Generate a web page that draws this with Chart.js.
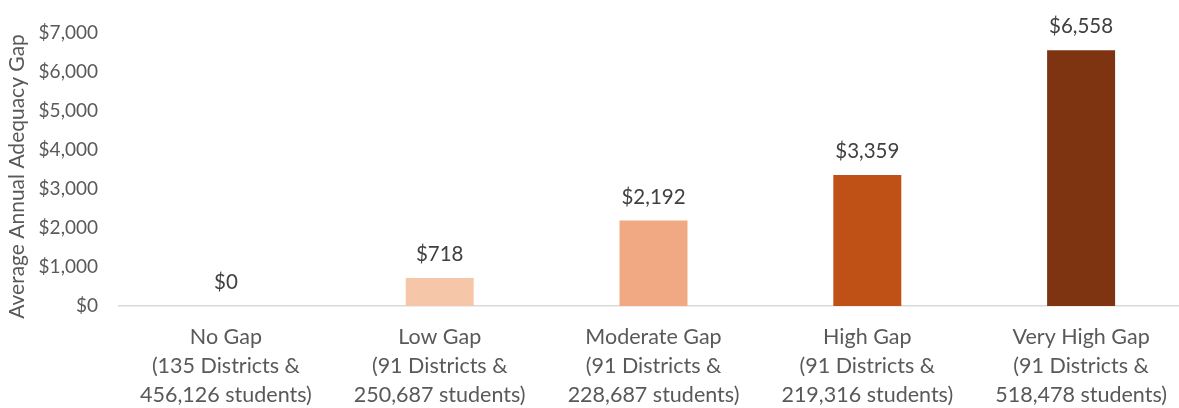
<!DOCTYPE html>
<html>
<head>
<meta charset="utf-8">
<script src="https://cdn.jsdelivr.net/npm/chart.js@4/dist/chart.umd.min.js"></script>
<style>
  html, body { margin: 0; padding: 0; background: #ffffff; overflow: hidden; }
  #wrap { position: relative; width: 1190px; height: 408px; }
</style>
</head>
<body>
<div id="wrap"><canvas id="c" width="1190" height="408"></canvas></div>
<script>
const categories = [
  ["No Gap", "(135 Districts &", "456,126 students)"],
  ["Low Gap", "(91 Districts &", "250,687 students)"],
  ["Moderate Gap", "(91 Districts &", "228,687 students)"],
  ["High Gap", "(91 Districts &", "219,316 students)"],
  ["Very High Gap", "(91 Districts &", "518,478 students)"]
];
const gapValues = [0, 718, 2192, 3359, 6558];
const barColors = ["#F8CBAD", "#F6C6A9", "#F1A983", "#C05116", "#7F3411"];
const yAxisTitle = "Average Annual Adequacy Gap";

const FONT = "Lato, 'Open Sans', sans-serif";
const TEXT = "#595959";

function money(v) {
  return "$" + Math.round(v).toLocaleString("en-US");
}

const valueLabels = {
  id: "valueLabels",
  afterDatasetsDraw(chart) {
    const ctx = chart.ctx;
    const meta = chart.getDatasetMeta(0);
    ctx.save();
    ctx.font = "20.5px " + FONT;
    ctx.fillStyle = "#404040";
    ctx.textAlign = "center";
    ctx.textBaseline = "alphabetic";
    meta.data.forEach((bar, i) => {
      ctx.fillText(money(gapValues[i]), bar.x, bar.y - 17);
    });
    ctx.restore();
  }
};

const axisTitle = {
  id: "axisTitle",
  afterDraw(chart) {
    const ctx = chart.ctx;
    const area = chart.chartArea;
    ctx.save();
    ctx.font = "21px " + FONT;
    ctx.fillStyle = TEXT;
    ctx.textAlign = "center";
    ctx.textBaseline = "middle";
    ctx.translate(17, (area.top + area.bottom) / 2 + 7);
    ctx.rotate(-Math.PI / 2);
    ctx.fillText(yAxisTitle, 0, 0);
    ctx.restore();
  }
};

new Chart(document.getElementById("c"), {
  type: "bar",
  data: {
    labels: categories,
    datasets: [{
      data: gapValues,
      backgroundColor: barColors.slice(0),
      borderWidth: 0,
      categoryPercentage: 1.0,
      barPercentage: 0.318
    }]
  },
  options: {
    responsive: false,
    animation: false,
    devicePixelRatio: 1,
    layout: { padding: { left: 0, right: 2, top: 33, bottom: 0 } },
    plugins: { legend: { display: false }, tooltip: { enabled: false } },
    scales: {
      x: {
        grid: { display: false, drawTicks: false },
        border: { display: true, color: "#D9D9D9", width: 1.5 },
        ticks: {
          color: TEXT,
          font: { family: FONT, size: 21.5, lineHeight: "29px" },
          padding: 17,
          maxRotation: 0,
          autoSkip: false
        },
        afterFit(s) { s.height = 102; }
      },
      y: {
        min: 0,
        max: 7000,
        grid: { display: false, drawTicks: false },
        border: { display: false },
        ticks: {
          stepSize: 1000,
          color: TEXT,
          font: { family: FONT, size: 19 },
          padding: 21,
          callback: (v) => money(v)
        },
        title: { display: false },
        afterFit(s) { s.width = 119; }
      }
    }
  },
  plugins: [valueLabels, axisTitle]
});
</script>
</body>
</html>
